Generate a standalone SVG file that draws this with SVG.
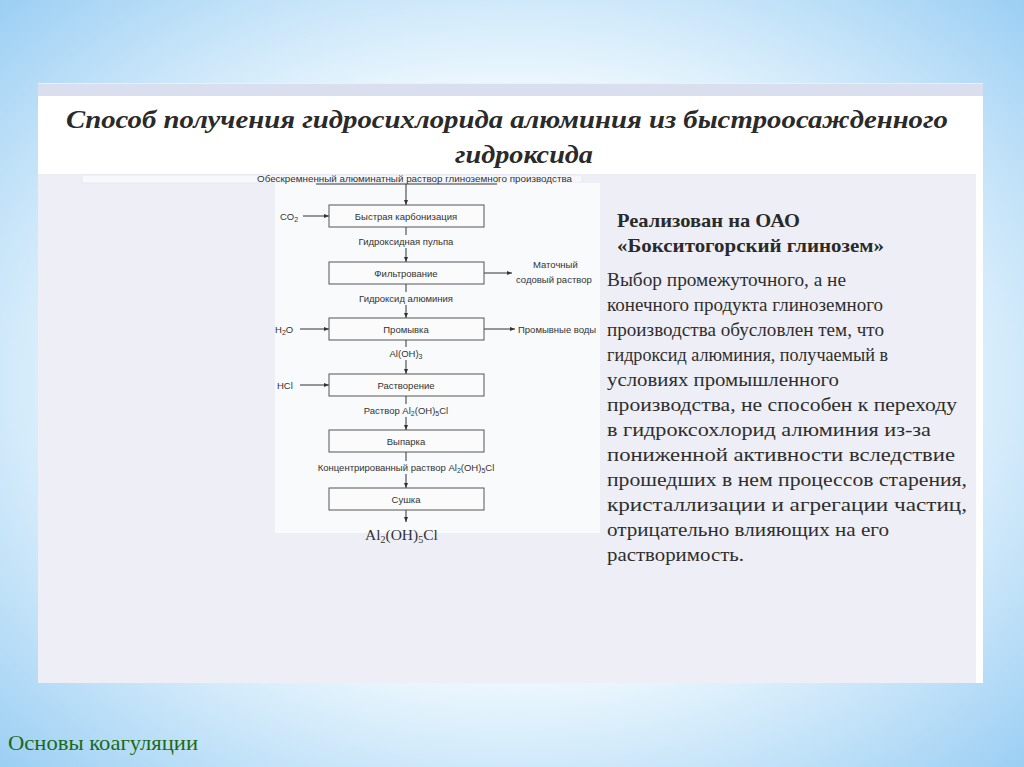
<svg xmlns="http://www.w3.org/2000/svg" width="1024" height="767" viewBox="0 0 1024 767">
<defs>
<radialGradient id="bg" cx="50%" cy="50%" r="72%">
<stop offset="0" stop-color="#ffffff"/>
<stop offset="0.55" stop-color="#eaf6fd"/>
<stop offset="1" stop-color="#98cdf3"/>
</radialGradient>
<marker id="ah" viewBox="0 0 10 10" refX="10" refY="5" markerWidth="5" markerHeight="5" orient="auto" markerUnits="userSpaceOnUse">
<path d="M0,1 L10,5 L0,9 z" fill="#333"/>
</marker>
<style>
.box{fill:#fbfbfb;stroke:#555;stroke-width:1}
.bt{font-family:"Liberation Sans",Arial,sans-serif;font-size:9.5px;fill:#333;text-anchor:middle}
.lt{font-family:"Liberation Sans",Arial,sans-serif;font-size:9.5px;fill:#333}
.ln{stroke:#333;stroke-width:1;fill:none}
.ttl{font-family:"Liberation Serif","Times New Roman",serif;font-style:italic;font-weight:bold;font-size:26px;fill:#2a2a2a}
.hd{font-family:"Liberation Serif","Times New Roman",serif;font-weight:bold;font-size:19px;fill:#2a2a2a}
.body{font-family:"Liberation Serif","Times New Roman",serif;font-size:19.5px;fill:#2e2e2e}
</style>
</defs>
<rect x="0" y="0" width="1024" height="767" fill="url(#bg)"/>
<!-- panel -->
<rect x="38" y="83" width="945" height="600" fill="#eeeff6"/>
<rect x="38" y="84" width="945" height="12" fill="#d9dfee"/>
<rect x="38" y="96" width="945" height="78" fill="#ffffff"/>
<rect x="82" y="175" width="500" height="8" fill="#f7f8fb" stroke="#e6e8ef" stroke-width="1"/>
<rect x="976" y="96" width="7" height="587" fill="#ffffff"/>
<rect x="275" y="183" width="325" height="350" fill="#f9fafc"/>
<!-- title -->
<text class="ttl" x="66" y="128" textLength="882" lengthAdjust="spacingAndGlyphs">Способ получения гидросихлорида алюминия из быстроосажденного</text>
<text class="ttl" x="455" y="163" textLength="138" lengthAdjust="spacingAndGlyphs">гидроксида</text>
<!-- connectors -->
<g id="connectors">
<line class="ln" x1="316" y1="184" x2="497" y2="184"/>
<line class="ln" x1="406" y1="184" x2="406" y2="205" marker-end="url(#ah)"/>
<line class="ln" x1="406" y1="227" x2="406" y2="235"/>
<line class="ln" x1="406" y1="248" x2="406" y2="262" marker-end="url(#ah)"/>
<line class="ln" x1="406" y1="284" x2="406" y2="292"/>
<line class="ln" x1="406" y1="305" x2="406" y2="318" marker-end="url(#ah)"/>
<line class="ln" x1="406" y1="340" x2="406" y2="347"/>
<line class="ln" x1="406" y1="360" x2="406" y2="374" marker-end="url(#ah)"/>
<line class="ln" x1="406" y1="396" x2="406" y2="404"/>
<line class="ln" x1="406" y1="417" x2="406" y2="430" marker-end="url(#ah)"/>
<line class="ln" x1="406" y1="452" x2="406" y2="461"/>
<line class="ln" x1="406" y1="474" x2="406" y2="488" marker-end="url(#ah)"/>
<line class="ln" x1="406" y1="510" x2="406" y2="522" marker-end="url(#ah)"/>
<line class="ln" x1="303" y1="216" x2="329" y2="216" marker-end="url(#ah)"/>
<line class="ln" x1="484" y1="273" x2="512" y2="273" marker-end="url(#ah)"/>
<line class="ln" x1="300" y1="329" x2="329" y2="329" marker-end="url(#ah)"/>
<line class="ln" x1="484" y1="329" x2="515" y2="329" marker-end="url(#ah)"/>
<line class="ln" x1="300" y1="385" x2="329" y2="385" marker-end="url(#ah)"/>
</g>
<!-- flow labels -->
<g id="labels">
<text class="lt" x="257" y="182" textLength="315" lengthAdjust="spacingAndGlyphs">Обескремненный алюминатный раствор глиноземного производства</text>
<text class="lt" x="280" y="220">CO<tspan font-size="7" dy="2">2</tspan></text>
<text class="bt" x="406" y="245">Гидроксидная пульпа</text>
<text class="lt" x="533" y="268">Маточный</text>
<text class="lt" x="516" y="283">содовый раствор</text>
<text class="bt" x="406" y="302">Гидроксид алюминия</text>
<text class="lt" x="275" y="333">H<tspan font-size="7" dy="2">2</tspan><tspan dy="-2">O</tspan></text>
<text class="lt" x="518" y="333">Промывные воды</text>
<text class="bt" x="406" y="357">Al(OH)<tspan font-size="7" dy="2">3</tspan></text>
<text class="lt" x="277" y="389">HCl</text>
<text class="bt" x="406" y="414">Раствор Al<tspan font-size="7" dy="2">2</tspan><tspan dy="-2">(OH)</tspan><tspan font-size="7" dy="2">5</tspan><tspan dy="-2">Cl</tspan></text>
<text class="bt" x="406" y="471">Концентрированный раствор Al<tspan font-size="7" dy="2">2</tspan><tspan dy="-2">(OH)</tspan><tspan font-size="7" dy="2">5</tspan><tspan dy="-2">Cl</tspan></text>
<text x="365" y="540" font-family="Liberation Serif, serif" font-size="15.5" fill="#333">Al<tspan font-size="10" dy="3">2</tspan><tspan dy="-3">(OH)</tspan><tspan font-size="10" dy="3">5</tspan><tspan dy="-3">Cl</tspan></text>
</g>
<!-- nodes -->
<g id="n1"><rect class="box" x="329" y="205" width="155" height="22"/><text class="bt" x="406" y="220">Быстрая карбонизация</text></g>
<g id="n2"><rect class="box" x="329" y="262" width="155" height="22"/><text class="bt" x="406" y="277">Фильтрование</text></g>
<g id="n3"><rect class="box" x="329" y="318" width="155" height="22"/><text class="bt" x="406" y="333">Промывка</text></g>
<g id="n4"><rect class="box" x="329" y="374" width="155" height="22"/><text class="bt" x="406" y="389">Растворение</text></g>
<g id="n5"><rect class="box" x="329" y="430" width="155" height="22"/><text class="bt" x="406" y="445">Выпарка</text></g>
<g id="n6"><rect class="box" x="329" y="488" width="155" height="22"/><text class="bt" x="406" y="503">Сушка</text></g>
<!-- right text -->
<g id="desc">
<text class="hd" x="617" y="227" textLength="183" lengthAdjust="spacingAndGlyphs">Реализован на ОАО</text>
<text class="hd" x="617" y="252" textLength="267" lengthAdjust="spacingAndGlyphs">«Бокситогорский глинозем»</text>
<text class="body" x="607" y="286" textLength="239" lengthAdjust="spacingAndGlyphs">Выбор промежуточного, а не</text>
<text class="body" x="607" y="311" textLength="276" lengthAdjust="spacingAndGlyphs">конечного продукта глиноземного</text>
<text class="body" x="607" y="336" textLength="277" lengthAdjust="spacingAndGlyphs">производства обусловлен тем, что</text>
<text class="body" x="607" y="361" textLength="281" lengthAdjust="spacingAndGlyphs">гидроксид алюминия, получаемый в</text>
<text class="body" x="607" y="386" textLength="232" lengthAdjust="spacingAndGlyphs">условиях промышленного</text>
<text class="body" x="607" y="411" textLength="350" lengthAdjust="spacingAndGlyphs">производства, не способен к переходу</text>
<text class="body" x="607" y="436" textLength="324" lengthAdjust="spacingAndGlyphs">в гидроксохлорид алюминия из-за</text>
<text class="body" x="607" y="461" textLength="348" lengthAdjust="spacingAndGlyphs">пониженной активности вследствие</text>
<text class="body" x="607" y="486" textLength="360" lengthAdjust="spacingAndGlyphs">прошедших в нем процессов старения,</text>
<text class="body" x="607" y="511" textLength="360" lengthAdjust="spacingAndGlyphs">кристаллизации и агрегации частиц,</text>
<text class="body" x="607" y="536" textLength="282" lengthAdjust="spacingAndGlyphs">отрицательно влияющих на его</text>
<text class="body" x="607" y="561" textLength="137" lengthAdjust="spacingAndGlyphs">растворимость.</text>
</g>
<text x="8" y="750" font-family="Liberation Serif, serif" font-size="22" fill="#1a6a1a" textLength="190" lengthAdjust="spacingAndGlyphs">Основы коагуляции</text>
</svg>
